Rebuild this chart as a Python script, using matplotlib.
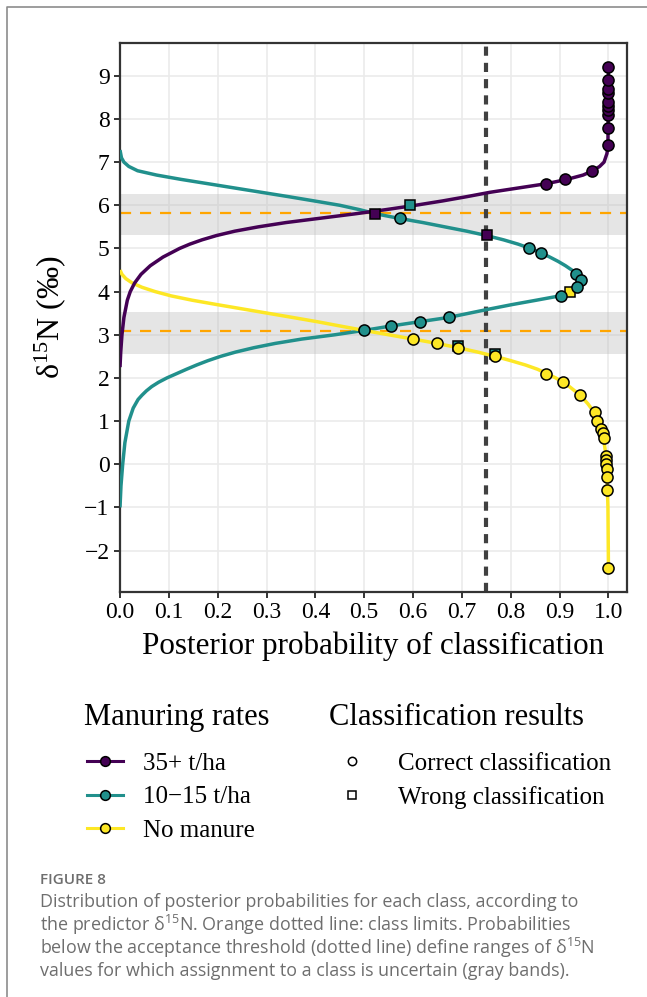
import matplotlib
matplotlib.use("Agg")
import matplotlib.pyplot as plt
from matplotlib.lines import Line2D

plt.rcParams['font.family'] = ['Liberation Serif', 'DejaVu Serif']
plt.rcParams['mathtext.default'] = 'regular'

#%% data

# posterior probability curves (delta15N, probability)
high_y = [2.25, 2.6, 3.0, 3.4, 3.8, 4.0, 4.2, 4.4, 4.6, 4.8, 5.0, 5.1, 5.2, 5.3, 5.4, 5.5,
          5.6, 5.7, 5.8, 5.9, 6.0, 6.1, 6.2, 6.3, 6.4, 6.5, 6.6, 6.7, 6.8, 6.9, 7.0, 7.2,
          7.4, 9.2]
high_p = [0.0, 0.0015, 0.004, 0.008, 0.015, 0.021, 0.03, 0.043, 0.062, 0.088, 0.122, 0.143,
          0.168, 0.198, 0.235, 0.283, 0.34, 0.41, 0.48, 0.545, 0.605, 0.66, 0.71, 0.757,
          0.815, 0.873, 0.915, 0.948, 0.968, 0.982, 0.991, 0.997, 0.999, 1.0]

mid_y = [7.28, 7.1, 7.0, 6.9, 6.8, 6.7, 6.6, 6.5, 6.4, 6.3, 6.2, 6.1, 6.0, 5.9, 5.8, 5.7,
         5.6, 5.5, 5.4, 5.3, 5.2, 5.1, 5.0, 4.9, 4.8, 4.7, 4.6, 4.5, 4.4, 4.3, 4.2, 4.1,
         4.0, 3.9, 3.8, 3.7, 3.6, 3.5, 3.4, 3.3, 3.2, 3.1, 3.0, 2.9, 2.8, 2.7, 2.6, 2.5,
         2.4, 2.3, 2.2, 2.1, 2.0, 1.9, 1.8, 1.7, 1.6, 1.5, 1.3, 1.0, 0.5, 0.0, -0.5, -1.0]
mid_p = [0.0, 0.003, 0.008, 0.018, 0.036, 0.075, 0.125, 0.18, 0.235, 0.29, 0.345, 0.398,
         0.45, 0.49, 0.525, 0.57, 0.62, 0.665, 0.71, 0.75, 0.785, 0.815, 0.84, 0.862,
         0.88, 0.897, 0.912, 0.925, 0.934, 0.94, 0.942, 0.937, 0.925, 0.9, 0.852, 0.803,
         0.758, 0.715, 0.672, 0.612, 0.553, 0.499, 0.44, 0.372, 0.318, 0.274, 0.237, 0.206,
         0.18, 0.157, 0.136, 0.116, 0.096, 0.079, 0.065, 0.054, 0.045, 0.037, 0.027, 0.018,
         0.01, 0.0055, 0.002, 0.0]

none_y = [4.5, 4.4, 4.3, 4.2, 4.1, 4.0, 3.9, 3.8, 3.7, 3.6, 3.5, 3.4, 3.3, 3.2, 3.1, 3.0,
          2.9, 2.8, 2.7, 2.6, 2.5, 2.4, 2.3, 2.2, 2.1, 2.0, 1.9, 1.8, 1.6, 1.4, 1.2, 1.0,
          0.8, 0.6, 0.2, 0.0, -0.3, -0.6, -1.0, -2.4]
none_p = [0.0, 0.004, 0.012, 0.025, 0.045, 0.072, 0.105, 0.148, 0.198, 0.25, 0.302, 0.354,
          0.405, 0.452, 0.5, 0.55, 0.6, 0.649, 0.692, 0.732, 0.768, 0.8, 0.83, 0.855,
          0.874, 0.892, 0.907, 0.92, 0.942, 0.958, 0.971, 0.978, 0.985, 0.99, 0.995,
          0.996, 0.997, 0.998, 0.999, 1.0]

# samples: correct (circles) and wrong (squares)
high_ok_p = [0.873, 0.912, 0.966, 0.999, 0.999, 0.999, 0.999, 0.999, 0.999, 0.999, 0.999, 0.999, 0.999]
high_ok_y = [6.5, 6.6, 6.8, 7.4, 7.8, 8.1, 8.2, 8.3, 8.4, 8.6, 8.7, 8.9, 9.2]
high_bad_p = [0.522, 0.751]
high_bad_y = [5.8, 5.3]

mid_ok_p = [0.573, 0.838, 0.862, 0.933, 0.943, 0.936, 0.902, 0.673, 0.615, 0.555, 0.499]
mid_ok_y = [5.7, 5.0, 4.9, 4.4, 4.28, 4.1, 3.9, 3.4, 3.3, 3.2, 3.1]
mid_bad_p = [0.594, 0.693, 0.768]
mid_bad_y = [6.0, 2.74, 2.55]

none_ok_p = [0.6, 0.649, 0.693, 0.768, 0.873, 0.907, 0.942, 0.972, 0.977, 0.984, 0.988,
             0.99, 0.995, 0.996, 0.996, 0.997, 0.997, 0.998, 0.999]
none_ok_y = [2.9, 2.8, 2.69, 2.5, 2.1, 1.9, 1.6, 1.2, 1.0, 0.81, 0.72, 0.6, 0.2, 0.1, 0.0,
             -0.1, -0.3, -0.6, -2.4]
none_bad_p = [0.922]
none_bad_y = [4.0]

class_limits = [5.83, 3.085]
uncertain_bands = [(5.32, 6.25), (2.56, 3.52)]
threshold = 0.75

labels = ['35+ t/ha', '10\u221215 t/ha', 'No manure']
colors = ['#440154', '#21908C', '#FDE725']

#%% figure
fig = plt.figure(figsize=(6.47, 9.97), dpi=100)
ax = fig.add_axes([120/647, 1-592/997, 507/647, 549/997])

ax.set_xlim(0, 1.038)
ax.set_ylim(-2.96, 9.76)
ax.set_xticks([i/10 for i in range(11)])
ax.set_yticks(range(-2, 10))
ax.grid(True, color='#EBEBEB', linewidth=1.2, zorder=0)
ax.set_axisbelow(True)
for s in ax.spines.values():
    s.set_color('#333333')
    s.set_linewidth(1.6)
ax.tick_params(colors='#333333', width=1.4, length=4, labelsize=17, labelcolor='black')

for lo, hi in uncertain_bands:
    ax.axhspan(lo, hi, color='#BEBEBE', alpha=0.4, lw=0, zorder=1)
for yl in class_limits:
    ax.axhline(yl, color='#FFA500', lw=1.6, dashes=(5, 4), zorder=2)
ax.axvline(threshold, color='#404040', lw=3, dashes=(2.2, 1.7), zorder=2)

ax.plot(mid_p, mid_y, color=colors[1], lw=2.5, zorder=3, solid_capstyle='butt')
ax.plot(none_p, none_y, color=colors[2], lw=2.5, zorder=3, solid_capstyle='butt')
ax.plot(high_p, high_y, color=colors[0], lw=2.5, zorder=3, solid_capstyle='butt')

for bp, by, c in [(high_bad_p, high_bad_y, colors[0]), (mid_bad_p, mid_bad_y, colors[1]),
                  (none_bad_p, none_bad_y, colors[2])]:
    ax.plot(bp, by, ls='none', marker='s', ms=7, mfc=c, mec='black', mew=1.1, zorder=4)
for op, oy, c in [(high_ok_p, high_ok_y, colors[0]), (mid_ok_p, mid_ok_y, colors[1]),
                  (none_ok_p, none_ok_y, colors[2])]:
    ax.plot(op, oy, ls='none', marker='o', ms=8, mfc=c, mec='black', mew=1.1, zorder=5)

ax.set_xlabel('Posterior probability of classification', fontsize=22.4, labelpad=6)
ax.set_ylabel('\u03b4$^{15}$N (\u2030)', fontsize=23, labelpad=12)

#%% legends (titles drawn as text so the gap matches)
fig.text(84/647, 1-717/997, 'Manuring rates', fontsize=22, va='center')
fig.text(329/647, 1-717/997, 'Classification results', fontsize=22, va='center')

h1 = [Line2D([], [], color=c, lw=2.2, marker='o', ms=7, mfc=c, mec='black', mew=1.1)
      for c in colors]
fig.legend(h1, labels, loc='upper left', bbox_to_anchor=(87/647, 1-752/997),
           frameon=False, fontsize=18, handlelength=1.45, handletextpad=0.8,
           labelspacing=0.45, borderpad=0, borderaxespad=0)
h2 = [Line2D([], [], ls='none', marker='o', ms=6, mfc='white', mec='black', mew=1.1),
      Line2D([], [], ls='none', marker='s', ms=6, mfc='white', mec='black', mew=1.1)]
fig.legend(h2, ['Correct classification', 'Wrong classification'], loc='upper left',
           bbox_to_anchor=(334/647, 1-752/997), frameon=False, fontsize=18,
           handlelength=1.45, handletextpad=1.1, labelspacing=0.45, borderpad=0,
           borderaxespad=0)

#%% caption and frame
cap_col = '#6E6E6E'
fig.text(40/647, 1-880/997, 'FIGURE 8', family='Open Sans', fontsize=11,
         weight='semibold', color=cap_col, va='center')
caption = ['Distribution of posterior probabilities for each class, according to',
           'the predictor \u03b4$^{15}$N. Orange dotted line: class limits. Probabilities',
           'below the acceptance threshold (dotted line) define ranges of \u03b4$^{15}$N',
           'values for which assignment to a class is uncertain (gray bands).']
for i, line in enumerate(caption):
    fig.text(40/647, 1-(902+23*i)/997, line, family=['Open Sans', 'DejaVu Sans'],
             fontsize=12.9, color=cap_col, va='center')

fig.add_artist(Line2D([7/647, 7/647, 1], [0, 1-7/997, 1-7/997], color='#8C8C8C', lw=1.2,
                      transform=fig.transFigure))

fig.savefig('out.png', dpi=100)
